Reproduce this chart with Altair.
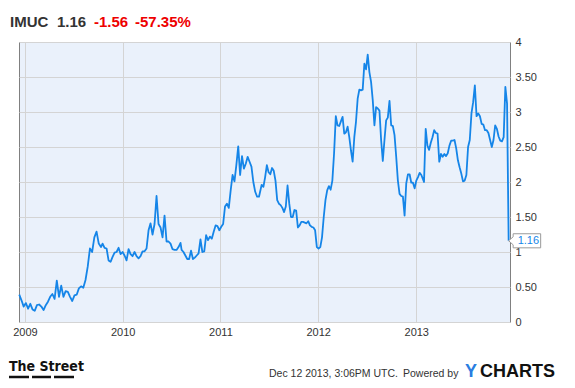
import altair as alt
import pandas as pd

# ---------------- data ----------------
TICKER = "IMUC"
LAST_PRICE = "1.16"
CHANGE = "-1.56"
CHANGE_PCT = "-57.35%"
FOOTER_DATE = "Dec 12 2013, 3:06PM UTC."
Y_TICKS = [0.0, 0.5, 1.0, 1.5, 2.0, 2.5, 3.0, 3.5, 4.0]

SEG_BOUNDS = [
    ("2008-12-11", "2009-10-12"),
    ("2009-10-18", "2010-08-05"),
    ("2010-08-09", "2011-06-01"),
    ("2011-06-04", "2012-03-26"),
    ("2012-04-01", "2013-01-20"),
    ("2013-01-30", "2013-12-06"),
]
SEG1 = [0.39, 0.31, 0.22, 0.27, 0.19, 0.26, 0.18, 0.16, 0.24, 0.25, 0.22, 0.17, 0.24,
        0.29, 0.36, 0.40, 0.33, 0.59, 0.36, 0.52, 0.36, 0.44, 0.43, 0.36, 0.30, 0.38,
        0.39, 0.48, 0.51, 0.49, 0.60, 0.79, 1.05, 1.00, 1.21, 1.29, 1.12, 1.07]
SEG2 = [1.12, 1.06, 1.05, 0.88, 0.86, 0.93, 0.99, 1.00, 1.06, 0.97, 1.00, 0.95, 0.88,
        1.04, 0.97, 0.94, 1.00, 0.94, 0.91, 0.94, 1.01, 1.01, 1.05, 1.31, 1.41, 1.25,
        1.40, 1.80, 1.40, 1.35, 1.21, 1.52, 1.15, 1.15, 1.12, 1.04, 1.03, 1.03, 1.07, 1.13]
SEG3 = [1.03, 1.00, 0.95, 0.90, 0.90, 1.02, 0.90, 0.92, 0.95, 0.98, 1.18, 1.00, 1.01,
        1.24, 1.17, 1.22, 1.19, 1.29, 1.38, 1.37, 1.31, 1.36, 1.40, 1.65, 1.69, 1.63,
        1.88, 2.10, 2.01, 2.24, 2.51, 2.10, 2.37, 2.19, 2.26, 2.36, 2.29, 2.22, 2.00,
        1.86, 1.79, 1.79, 1.91]
SEG4 = [1.96, 1.93, 2.07, 2.24, 2.14, 2.11, 2.20, 2.16, 2.02, 1.74, 1.69, 1.67, 1.63,
        1.57, 1.65, 1.95, 1.69, 1.50, 1.50, 1.60, 1.59, 1.35, 1.38, 1.43, 1.43, 1.42,
        1.41, 1.44, 1.38, 1.36, 1.35, 1.31, 1.07, 1.05, 1.07, 1.21, 1.50, 1.74, 1.88,
        1.94, 1.89, 2.02, 2.41, 2.94, 2.81, 2.80, 2.87]
SEG5 = [2.93, 2.69, 2.71, 2.79, 2.64, 2.45, 2.29, 2.64, 2.86, 3.19, 3.32, 3.31, 3.32,
        3.69, 3.61, 3.82, 3.57, 3.43, 3.17, 2.81, 3.07, 3.05, 3.02, 2.60, 2.30, 2.60,
        2.88, 2.92, 3.16, 2.81, 2.80, 2.67, 2.36, 2.02, 1.83, 1.80, 1.79, 1.52, 1.98,
        2.11, 2.11, 1.99, 1.99, 1.91, 2.02, 2.07, 2.13, 2.10]
SEG6 = [2.00, 2.76, 2.52, 2.46, 2.56, 2.64, 2.74, 2.70, 2.69, 2.29, 2.40, 2.36, 2.40,
        2.37, 2.41, 2.52, 2.59, 2.59, 2.60, 2.48, 2.31, 2.21, 2.12, 2.01, 2.02, 2.10,
        2.50, 2.60, 2.98, 3.14, 3.38, 2.94, 2.98, 2.94, 2.83, 2.82, 2.74, 2.74, 2.70,
        2.60, 2.50, 2.60, 2.81, 2.76, 2.65, 2.59, 2.58, 2.64, 3.36, 3.12]
LAST_DATE = "2013-12-12"
LAST_VALUE = 1.16

# ---------------- build table ----------------
frames = []
for (d0, d1), vals in zip(SEG_BOUNDS, [SEG1, SEG2, SEG3, SEG4, SEG5, SEG6]):
    frames.append(pd.DataFrame({"date": pd.date_range(d0, d1, periods=len(vals)),
                                "price": vals}))
frames.append(pd.DataFrame({"date": [pd.Timestamp(LAST_DATE)], "price": [LAST_VALUE]}))
df = pd.concat(frames, ignore_index=True)
last_df = pd.DataFrame({"date": [pd.Timestamp(LAST_DATE)], "price": [LAST_VALUE],
                        "label": [LAST_PRICE]})

FONT = "Liberation Sans, Arial, Helvetica, sans-serif"
BLUE = "#1585e8"
RED = "#ee0000"
DARK = "#333333"

x_enc = alt.X("date:T", title=None,
              scale=alt.Scale(domain=[alt.DateTime(year=2008, month=12, date=10),
                                      alt.DateTime(year=2013, month=12, date=17)]),
              axis=alt.Axis(format="%Y", tickCount="year", grid=True, ticks=False,
                            domain=False, labelPadding=4, labelFontSize=11,
                            labelColor=DARK, labelFont=FONT, gridColor="#d4d4d4",
                            labelFlush=False))
y_enc = alt.Y("price:Q", title=None,
              scale=alt.Scale(domain=[0, 4], nice=False, zero=True),
              axis=alt.Axis(orient="right", values=Y_TICKS, grid=True, ticks=False,
                            domain=False, labelPadding=5, labelFontSize=11,
                            labelColor=DARK, labelFont=FONT, gridColor="#d4d4d4",
                            labelOverlap=False, labelFlush=False,
                            labelExpr="datum.value % 1 == 0 ? format(datum.value, 'd') : format(datum.value, '.2f')"))

line = alt.Chart(df).mark_line(color=BLUE, strokeWidth=1.8, strokeJoin="round").encode(
    x=x_enc, y=y_enc)

callout_path = "M0,0L0.14,-0.125L0.14,-0.22L1,-0.22L1,0.22L0.14,0.22L0.14,0.125Z"
callout = alt.Chart(last_df).mark_point(shape=callout_path, size=4096, filled=True,
                                        fill="white", stroke="#9a9a9a", strokeWidth=1,
                                        opacity=1).encode(x=x_enc, y=y_enc)
callout_text = alt.Chart(last_df).mark_text(align="left", baseline="middle", dx=9,
                                            fontSize=11, font=FONT, color=BLUE).encode(
    x=x_enc, y=y_enc, text="label:N")


def label(txt, x, y, size, color, weight="normal", font=FONT):
    return alt.Chart(pd.DataFrame({"t": [txt]})).mark_text(
        align="left", baseline="alphabetic", fontSize=size, fontWeight=weight,
        font=font, color=color).encode(x=alt.value(x), y=alt.value(y), text="t:N")


header = [
    label(TICKER, -9, -15, 15, DARK, "bold"),
    label(LAST_PRICE, 38, -15, 15, DARK, "bold"),
    label(CHANGE, 75, -15, 15, RED, "bold"),
    label(CHANGE_PCT, 116, -15, 15, RED, "bold"),
]
footer = [
    label("The Street", -10, 329, 14, "#111111", "bold",
          font="Liberation Sans Narrow, DejaVu Sans Condensed, Arial Narrow, sans-serif"),
    label(FOOTER_DATE, 250, 335, 10.5, DARK),
    label("Powered by", 384, 335, 10.5, DARK),
    label("Y", 446, 335, 18, "#2a7de1", "bold"),
    label("CHARTS", 461, 335, 18, "#111111", "bold"),
]
bars = [
    alt.Chart(pd.DataFrame({"k": [0]})).mark_rule(color="#111111", strokeWidth=2.5).encode(
        x=alt.value(a), x2=alt.value(b), y=alt.value(335))
    for a, b in [(-10, 10), (13, 32), (35, 55)]
]

chart = alt.layer(line, callout, callout_text, *header, *footer, *bars).properties(
    width=491, height=280,
    autosize=alt.AutoSizeParams(type="none"),
    padding={"left": 11, "top": 34, "right": 57, "bottom": 58},
    background="white",
).configure_view(fill="#eaf1fb", stroke="#808080", strokeWidth=1)

chart.save("out.html", embed_options={"renderer": "svg", "actions": False})
